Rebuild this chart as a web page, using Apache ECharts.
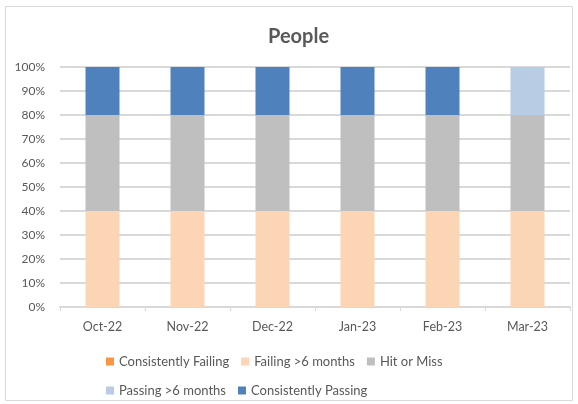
<!DOCTYPE html>
<html>
<head>
<meta charset="utf-8">
<script src="https://cdn.jsdelivr.net/npm/echarts@6/dist/echarts.min.js"></script>
<style>
  html, body { margin: 0; padding: 0; background: #ffffff; }
  #chart { width: 578px; height: 404px; }
</style>
</head>
<body>
<div id="chart"></div>
<script>
// categories and percentages
const months = ['Oct-22', 'Nov-22', 'Dec-22', 'Jan-23', 'Feb-23', 'Mar-23']
const consistentlyFailing = [0, 0, 0, 0, 0, 0]
const failingSixMonths = [40, 40, 40, 40, 40, 40]
const hitOrMiss = [40, 40, 40, 40, 40, 40]
const passingSixMonths = [0, 0, 0, 0, 0, 20]
const consistentlyPassing = [20, 20, 20, 20, 20, 0]

const font = 'Lato, "Open Sans", sans-serif'
const textColor = '#595959'

const chart = echarts.init(document.getElementById('chart'))

const bar = (name, data, color) => ({
  name,
  type: 'bar',
  stack: 'total',
  barWidth: '40%',
  data,
  itemStyle: { color },
})

const legendBase = {
  icon: 'rect',
  itemWidth: 8,
  itemHeight: 8,
  itemGap: 12,
  left: 101,
  textStyle: { color: textColor, fontSize: 13, fontFamily: font },
}

chart.setOption({
  animation: false,
  graphic: [
    {
      type: 'rect',
      shape: { x: 5.5, y: 6.5, width: 567, height: 394 },
      style: { fill: 'none', stroke: '#d9d9d9', lineWidth: 1 },
    },
  ],
  title: {
    text: 'People',
    left: 263,
    top: 22,
    textStyle: { color: textColor, fontSize: 20, fontWeight: 'bold', fontFamily: font },
  },
  legend: [
    Object.assign({}, legendBase, {
      top: 350,
      data: ['Consistently Failing', 'Failing >6 months', 'Hit or Miss'],
    }),
    Object.assign({}, legendBase, {
      top: 379,
      data: ['Passing >6 months', 'Consistently Passing'],
    }),
  ],
  grid: { left: 60, right: 8, top: 67, bottom: 97 },
  xAxis: {
    type: 'category',
    data: months,
    axisLine: { lineStyle: { color: '#d9d9d9', width: 2 } },
    axisTick: { show: true, length: 4, lineStyle: { color: '#d9d9d9' } },
    axisLabel: { color: textColor, fontSize: 12.5, fontFamily: font, margin: 13 },
  },
  yAxis: {
    type: 'value',
    min: 0,
    max: 100,
    interval: 10,
    axisLabel: { formatter: '{value}%', color: textColor, fontSize: 12, fontFamily: font, margin: 15 },
    splitLine: { lineStyle: { color: '#d9d9d9', width: 2 } },
    axisLine: { show: false },
    axisTick: { show: false },
  },
  series: [
    bar('Consistently Failing', consistentlyFailing, '#f79646'),
    bar('Failing >6 months', failingSixMonths, '#fcd5b4'),
    bar('Hit or Miss', hitOrMiss, '#bfbfbf'),
    bar('Passing >6 months', passingSixMonths, '#b8cce4'),
    bar('Consistently Passing', consistentlyPassing, '#4f81bd'),
  ],
})
</script>
</body>
</html>
